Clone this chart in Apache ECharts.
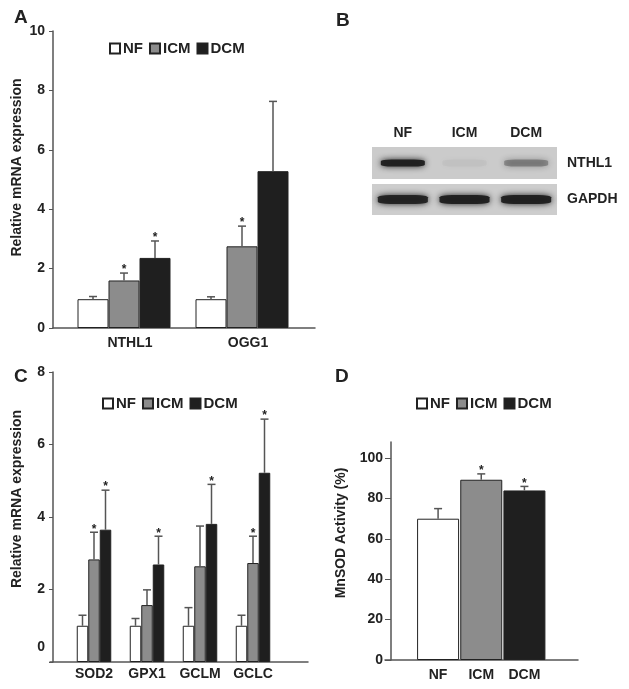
<!DOCTYPE html>
<html><head><meta charset="utf-8">
<script src="https://cdn.jsdelivr.net/npm/echarts@6/dist/echarts.min.js"></script>
<style>html,body{margin:0;padding:0;background:#fff}#c{width:629px;height:689px}</style>
</head><body><div id="c"></div>
<script>
// ---------- data ----------
const groups = ['NF', 'ICM', 'DCM'];
const groupColors = ['#ffffff', '#8c8c8c', '#1f1f1f'];

// Panel A
const genesA = ['NTHL1', 'OGG1'];
const meanA_NF = [0.97, 0.97];
const meanA_ICM = [1.60, 2.75];
const meanA_DCM = [2.36, 5.28];
const upA_NF = [1.06, 1.05];
const upA_ICM = [1.85, 3.43];
const upA_DCM = [2.93, 7.63];
const sigA_NF = [0, 0];
const sigA_ICM = [1, 1];
const sigA_DCM = [1, 0];

// Panel B (western blot band intensity, relative)
const lanesB = ['NF', 'ICM', 'DCM'];
const bandNTHL1 = [0.95, 0.03, 0.32];
const bandGAPDH = [0.92, 0.95, 0.95];

// Panel C
const genesC = ['SOD2', 'GPX1', 'GCLM', 'GCLC'];
const meanC_NF = [1.00, 1.00, 1.00, 1.00];
const meanC_ICM = [2.83, 1.57, 2.64, 2.73];
const meanC_DCM = [3.65, 2.69, 3.81, 5.22];
const upC_NF = [1.29, 1.20, 1.50, 1.29];
const upC_ICM = [3.58, 1.99, 3.75, 3.47];
const upC_DCM = [4.74, 3.47, 4.90, 6.70];
const sigC_NF = [0, 0, 0, 0];
const sigC_ICM = [1, 0, 0, 1];
const sigC_DCM = [1, 1, 1, 1];

// Panel D
const meanD = [70, 89.3, 84];
const upD = [75, 92.2, 86];
const sigD = [0, 1, 1];
const ticksD = [0, 20, 40, 60, 80, 100];

// ---------- styles ----------
const FONT = '"Liberation Sans", Arial, Helvetica, sans-serif';
const TXT = '#222';
const AX = '#555';
const lab = (s) => ({ fontFamily: FONT, fontWeight: 'bold', fontSize: s, color: TXT });

function errSeries(xi, yi, items, barW) {
  return {
    type: 'custom', xAxisIndex: xi, yAxisIndex: yi, z: 5, silent: true,
    data: items,
    renderItem: function (params, api) {
      const cat = api.value(0), mean = api.value(1), up = api.value(2), k = api.value(3), sig = api.value(4);
      const b = api.coord([cat, mean]);
      const t = api.coord([cat, up]);
      const x = b[0] + k * barW;
      const ch = [
        { type: 'line', shape: { x1: x, y1: b[1], x2: x, y2: t[1] }, style: { stroke: AX, lineWidth: 1.5 } },
        { type: 'line', shape: { x1: x - 4, y1: t[1], x2: x + 4, y2: t[1] }, style: { stroke: AX, lineWidth: 1.5 } }
      ];
      if (sig) ch.push({ type: 'text', style: { text: '*', x: x, y: t[1] + 3, align: 'center', verticalAlign: 'bottom', fill: TXT, font: 'bold 12px ' + FONT } });
      return { type: 'group', children: ch };
    }
  };
}
function errItems(means, ups, sigs, offsets) {
  const out = [];
  means.forEach((m, k) => m.forEach((v, i) => out.push([i, v, ups[k][i], offsets[k], sigs[k][i]])));
  return out;
}
function barSeries(xi, yi, means, bw, gap) {
  return means.map((m, k) => ({
    type: 'bar', name: groups[k], xAxisIndex: xi, yAxisIndex: yi, data: m,
    barWidth: bw, barGap: gap,
    itemStyle: { color: groupColors[k], borderColor: '#222', borderWidth: 1 }
  }));
}
const legend = (left, top) => ({
  left: left, top: top, data: groups, icon: 'rect', itemWidth: 10, itemHeight: 10, itemGap: 6,
  selectedMode: false, textStyle: Object.assign(lab(15), { padding: [0, 0, 0, -2] })
});
const extX = (gi) => ({ type: 'category', gridIndex: gi, data: [''], axisLine: { lineStyle: { color: AX, width: 1.5 } }, axisTick: { show: false }, axisLabel: { show: false } });
const hidY = (gi) => ({ type: 'value', gridIndex: gi, show: false });

// D series: one value per category, overlapping positions
const dSeries = groups.map((g, k) => ({
  type: 'bar', name: g, xAxisIndex: 6, yAxisIndex: 6, barWidth: 42, barGap: '-100%',
  data: meanD.map((v, i) => (i === k ? v : '-')),
  itemStyle: { color: groupColors[k], borderColor: '#222', borderWidth: 1 }
}));

const blotBand = (xi, yi, vals, size, blur) => ({
  type: 'scatter', xAxisIndex: xi, yAxisIndex: yi, symbol: 'roundRect', symbolSize: size, silent: true,
  data: vals.map((v, i) => ({ value: [i, 0], itemStyle: { opacity: v } })),
  itemStyle: { color: '#1e1e1e', shadowBlur: blur, shadowColor: 'rgba(25,25,25,1)' }
});

const option = {
  animation: false,
  backgroundColor: '#fff',
  title: [
    { text: 'A', left: 9, top: 3, textStyle: lab(19) },
    { text: 'B', left: 331, top: 6, textStyle: lab(19) },
    { text: 'C', left: 9, top: 362, textStyle: lab(19) },
    { text: 'D', left: 330, top: 362, textStyle: lab(19) }
  ],
  legend: [legend(104, 36), legend(97, 391), legend(411, 391)],
  grid: [
    { left: 65, top: 31, width: 236, height: 297 },
    { left: 53, top: 31, width: 262, height: 297 },
    { left: 372, top: 147, width: 185, height: 32, show: true, backgroundColor: '#cbcbcb', borderWidth: 0 },
    { left: 372, top: 184, width: 185, height: 31, show: true, backgroundColor: '#cdcdcd', borderWidth: 0 },
    { left: 67.5, top: 372, width: 212, height: 290 },
    { left: 50, top: 372, width: 258, height: 290 },
    { left: 416.5, top: 442, width: 129.5, height: 218 },
    { left: 385, top: 442, width: 193, height: 218 }
  ],
  xAxis: [
    { type: 'category', gridIndex: 0, data: genesA, axisLine: { show: false }, axisTick: { show: false }, axisLabel: Object.assign(lab(14), { margin: 8, interval: 0, padding: [0, 0, 0, 12] }) },
    extX(1),
    { type: 'category', gridIndex: 2, data: lanesB, position: 'top', axisLine: { show: false }, axisTick: { show: false }, axisLabel: Object.assign(lab(14), { margin: 7, interval: 0 }) },
    { type: 'category', gridIndex: 3, data: lanesB, show: false },
    { type: 'category', gridIndex: 4, data: genesC, axisLine: { show: false }, axisTick: { show: false }, axisLabel: Object.assign(lab(14), { margin: 5, interval: 0 }) },
    extX(5),
    { type: 'category', gridIndex: 6, data: groups, axisLine: { show: false }, axisTick: { show: false }, axisLabel: Object.assign(lab(14), { margin: 8, interval: 0 }) },
    extX(7)
  ],
  yAxis: [
    { type: 'value', gridIndex: 0, min: 0, max: 10, interval: 2, offset: 12,
      axisLine: { show: true, lineStyle: { color: AX, width: 1.5 } },
      axisTick: { show: true, length: 4, lineStyle: { color: AX } },
      splitLine: { show: false }, axisLabel: Object.assign(lab(14), { margin: 8 }),
      name: 'Relative mRNA expression', nameLocation: 'middle', nameGap: 29,
      nameTextStyle: Object.assign(lab(14), { padding: [0, 0, 0, 24] }) },
    hidY(1),
    { type: 'category', gridIndex: 2, data: ['NTHL1'], position: 'right', axisLine: { show: false }, axisTick: { show: false }, axisLabel: Object.assign(lab(14), { margin: 10, padding: [18, 0, 0, 0] }) },
    { type: 'category', gridIndex: 3, data: ['GAPDH'], position: 'right', axisLine: { show: false }, axisTick: { show: false }, axisLabel: Object.assign(lab(14), { margin: 10, padding: [7, 0, 0, 0] }) },
    { type: 'value', gridIndex: 4, min: 0, max: 8, interval: 2, offset: 14.5,
      axisLine: { show: true, lineStyle: { color: AX, width: 1.5 } },
      axisTick: { show: true, length: 4, lineStyle: { color: AX } },
      splitLine: { show: false },
      axisLabel: Object.assign(lab(14), { margin: 8,
        formatter: (v) => (v === 0 ? '{z|0}' : String(v)),
        rich: { z: Object.assign(lab(14), { padding: [0, 0, 30, 0] }) } }),
      name: 'Relative mRNA expression', nameLocation: 'middle', nameGap: 29,
      nameTextStyle: Object.assign(lab(14), { padding: [0, 0, 0, 36] }) },
    hidY(5),
    { type: 'value', gridIndex: 6, min: 0, max: 108, offset: 25.5,
      axisLine: { show: true, lineStyle: { color: AX, width: 1.5 } },
      axisTick: { show: true, length: 6, customValues: ticksD, lineStyle: { color: AX } },
      splitLine: { show: false },
      axisLabel: Object.assign(lab(14), { margin: 8, customValues: ticksD }),
      name: 'MnSOD Activity (%)', nameLocation: 'middle', nameGap: 43,
      nameTextStyle: Object.assign(lab(14), { padding: [0, 0, 0, 36] }) },
    hidY(7)
  ],
  series: [].concat(
    barSeries(0, 0, [meanA_NF, meanA_ICM, meanA_DCM], 31, 0),
    [errSeries(0, 0, errItems([meanA_NF, meanA_ICM, meanA_DCM], [upA_NF, upA_ICM, upA_DCM], [sigA_NF, sigA_ICM, sigA_DCM], [-1, 0, 1]), 31)],
    [blotBand(2, 2, bandNTHL1, [44, 7], 6), blotBand(3, 3, bandGAPDH, [50, 9], 6)],
    barSeries(4, 4, [meanC_NF, meanC_ICM, meanC_DCM], 11.5, 0),
    [errSeries(4, 4, errItems([meanC_NF, meanC_ICM, meanC_DCM], [upC_NF, upC_ICM, upC_DCM], [sigC_NF, sigC_ICM, sigC_DCM], [-1, 0, 1]), 11.5)],
    dSeries,
    [errSeries(6, 6, meanD.map((v, i) => [i, v, upD[i], 0, sigD[i]]), 0)]
  )
};
const chart = echarts.init(document.getElementById('c'), null, { renderer: 'canvas' });
chart.setOption(option);
</script></body></html>
